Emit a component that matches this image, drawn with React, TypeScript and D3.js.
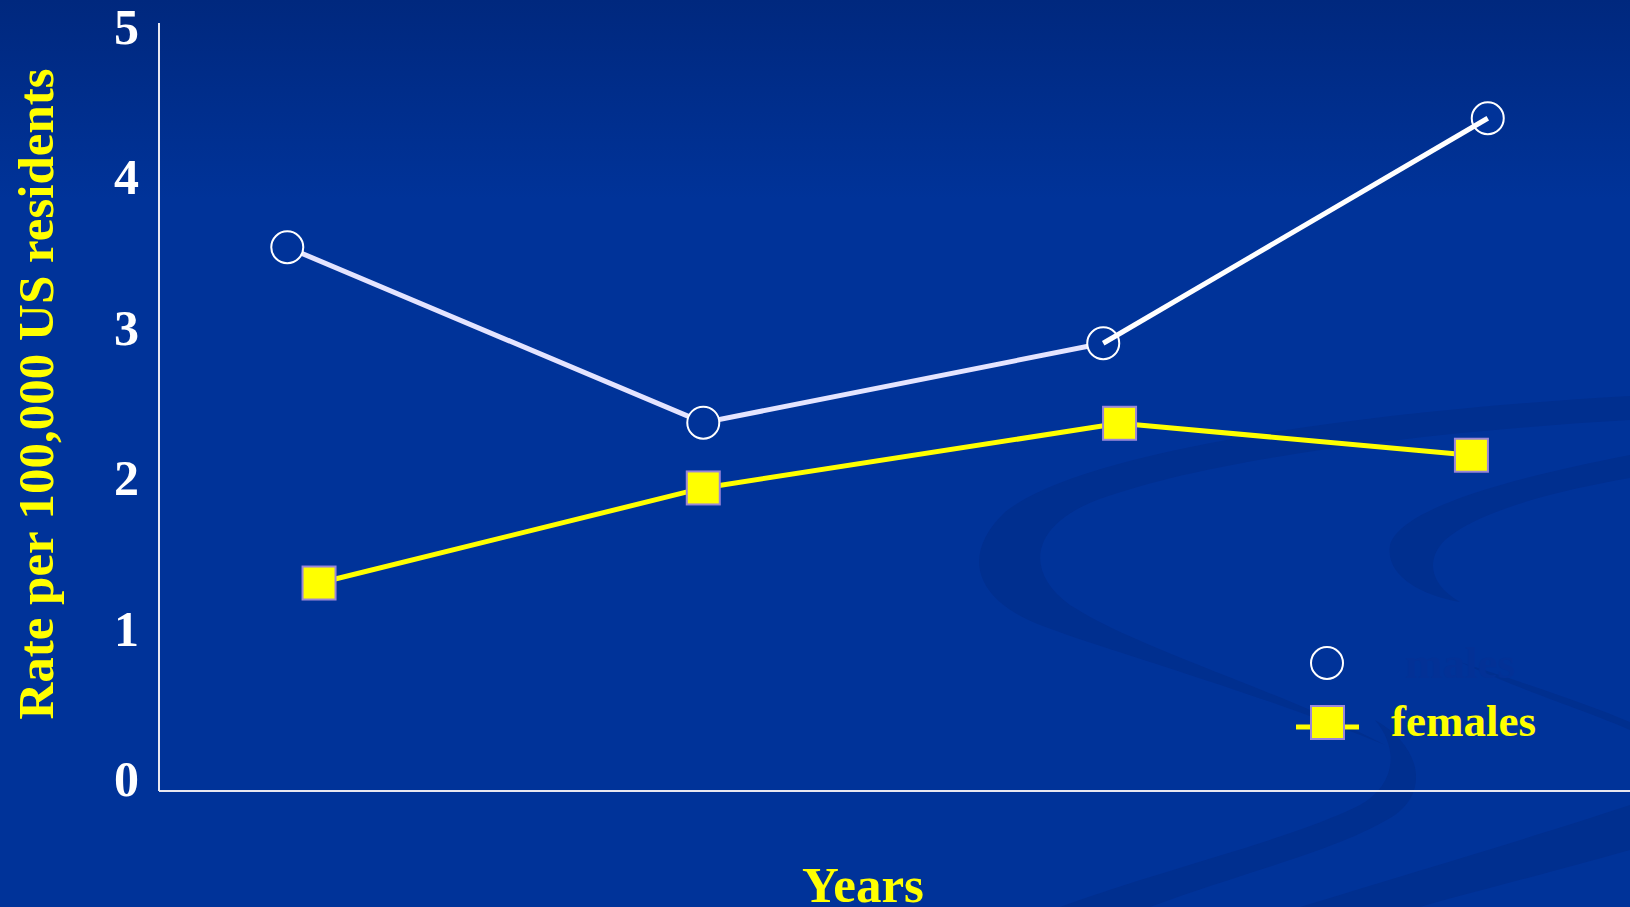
import React from "react";
import * as d3 from "d3";

// ---- data ----
const yTicks = [0, 1, 2, 3, 4, 5];
const maleX = [0.872, 3.7, 6.419, 9.033];
const maleRate = [3.54, 2.398, 2.915, 4.38];
const femaleX = [1.088, 3.7, 6.53, 8.922];
const femaleRate = [1.354, 1.973, 2.394, 2.186];
const legendLabels = ["males", "females"];
const yTitle = "Rate per 100,000 US residents";
const xTitle = "Years";

const W = 1630;
const H = 907;
const BG = "#003399";

export default function App() {
  const x = d3.scaleLinear().domain([0, 10]).range([159, 1630]);
  const y = d3.scaleLinear().domain([0, 5]).range([791, 23]);
  const yLab = d3.scaleLinear().domain([0, 5]).range([779, 27]);

  const males = maleX.map((v, i) => [x(v), y(maleRate[i])] as [number, number]);
  const females = femaleX.map((v, i) => [x(v), y(femaleRate[i])] as [number, number]);
  const line = d3.line<[number, number]>();

  const font = "'Liberation Serif', 'Times New Roman', serif";
  const band = "#002F8F";

  return (
    <svg width={W} height={H} style={{ position: "absolute", left: 0, top: 0, display: "block" }}>
      <defs>
        <linearGradient id="bg" x1="0" y1="0" x2="0" y2="1">
          <stop offset="0" stopColor="#00287E" />
          <stop offset="0.22" stopColor="#003399" />
          <stop offset="1" stopColor="#003399" />
        </linearGradient>
      </defs>
      <rect width={W} height={H} fill="url(#bg)" />
      {/* decorative swirls */}
      <g fill={band}>
        <path d="M1630 396 C1350 412 1080 452 1005 512 C960 555 975 600 1040 625 C1120 655 1250 690 1385 745 C1280 690 1140 650 1070 605 C1025 572 1030 528 1092 502 C1200 460 1420 432 1630 420 Z" />
        <path d="M1375 720 C1420 745 1430 790 1395 815 C1340 850 1250 870 1150 907 L1060 907 C1160 870 1290 840 1360 805 C1395 785 1400 750 1375 720 Z" />
        <path d="M1630 455 C1500 480 1400 510 1390 545 C1385 575 1420 595 1460 602 C1430 585 1425 560 1445 540 C1480 510 1560 490 1630 478 Z" />
        <path d="M1460 662 C1530 685 1590 705 1630 722 L1630 730 C1590 712 1520 690 1460 662 Z" />
        <path d="M1300 907 C1420 870 1540 835 1630 805 L1630 850 C1560 870 1480 890 1420 907 Z" />
      </g>

      {/* axes */}
      <line x1={x(0)} x2={x(0)} y1={y(5)} y2={y(0)} stroke="#E8E8F0" strokeWidth={2} />
      <line x1={x(0)} x2={x(10)} y1={y(0)} y2={y(0)} stroke="#E8E8F0" strokeWidth={2} />

      {yTicks.map((t) => (
        <text key={t} x={139} y={yLab(t)} dominantBaseline="central" textAnchor="end"
          fill="#FFFFFF" fontFamily={font} fontWeight="bold" fontSize={50}>
          {t}
        </text>
      ))}

      <text transform={`translate(53,394) rotate(-90)`} textAnchor="middle" fill="#FFFF00"
        fontFamily={font} fontWeight="bold" fontSize={51}>
        {yTitle}
      </text>
      <text x={863} y={902} textAnchor="middle" fill="#FFFF00" fontFamily={font}
        fontWeight="bold" fontSize={51}>
        {xTitle}
      </text>

      {/* females */}
      <path d={line(females) || ""} fill="none" stroke="#FFFF00" strokeWidth={5} />
      {females.map(([cx, cy], i) => (
        <rect key={i} x={cx - 16.5} y={cy - 16.5} width={33} height={33} fill="#FFFF00"
          stroke="#9A86D8" strokeWidth={2} />
      ))}

      {/* males */}
      <path d={line(males.slice(0, 3)) || ""} fill="none" stroke="#E4E4FF" strokeWidth={5} />
      {males.map(([cx, cy], i) => (
        <circle key={i} cx={cx} cy={cy} r={16} fill={BG} stroke="#FFFFFF" strokeWidth={2} />
      ))}
      <path d={line(males.slice(2)) || ""} fill="none" stroke="#FFFFFF" strokeWidth={5} />

      {/* legend */}
      <circle cx={1327} cy={663} r={16} fill="none" stroke="#FFFFFF" strokeWidth={2} />
      <text x={1405} y={678} fill="#033196" fontFamily={font} fontWeight="bold" fontSize={45}>
        {legendLabels[0]}
      </text>
      <line x1={1296} x2={1359} y1={727} y2={727} stroke="#FFFF00" strokeWidth={5} />
      <rect x={1311} y={706} width={33} height={33} fill="#FFFF00" stroke="#9A86D8" strokeWidth={2} />
      <text x={1391} y={736} fill="#FFFF00" fontFamily={font} fontWeight="bold" fontSize={45}>
        {legendLabels[1]}
      </text>
    </svg>
  );
}
